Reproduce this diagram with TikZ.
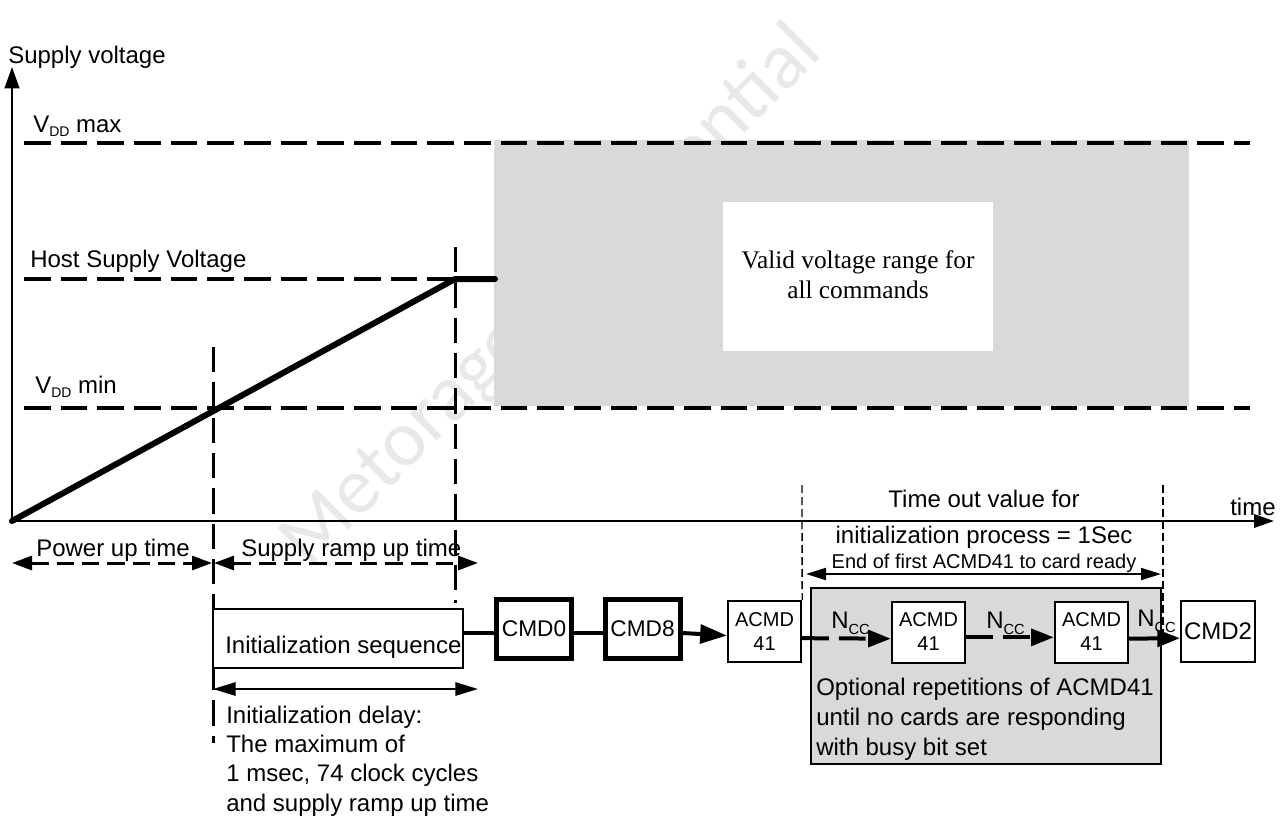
\documentclass[tikz,border=0pt]{standalone}
\usepackage{fontspec}
\setmainfont{Liberation Sans}
\newfontfamily\serifface{Liberation Serif}
\newfontfamily\markface{Carlito}
\usetikzlibrary{arrows.meta}

% subscripted symbols
\newcommand\vddsym{V\raisebox{-3pt}{\fontsize{10.5}{10.5}\selectfont DD}}
\newcommand\nccsym{N\raisebox{-4.5pt}{\fontsize{11}{11}\selectfont CC}}

\begin{document}
\begin{tikzpicture}[x=0.75pt,y=-0.75pt,
  lbl/.style={font=\fontsize{18}{22}\selectfont, inner sep=0pt},
  guide/.style={line width=3pt, dash pattern=on 20pt off 7.5pt},
  vguide/.style={line width=2.25pt, dash pattern=on 19pt off 7.5pt},
  thinguide/.style={line width=1pt, dash pattern=on 6pt off 3pt},
  spanarrow/.style={line width=2.25pt, dash pattern=on 13pt off 6pt,
    {Triangle[length=15pt,width=10.5pt]}-{Triangle[length=15pt,width=10.5pt]}},
  cmdbox/.style={draw, fill=white, line width=3.75pt, minimum width=56.25pt,
    minimum height=44.25pt, inner sep=0pt, font=\fontsize{17}{20}\selectfont},
  abox/.style={draw, fill=white, line width=1.5pt, minimum width=55pt,
    minimum height=45.75pt, inner sep=0pt, align=center,
    font=\fontsize{15}{18}\selectfont},
  linkarrow/.style={line width=3pt, -{Triangle[length=17pt,width=12.5pt]}},
  dlinkarrow/.style={linkarrow, dash pattern=on 20pt off 7.5pt},
]
\useasboundingbox (0,0) rectangle (1287,822);

% watermark
\node[rotate=45, text=black!9, font=\markface\fontsize{60}{60}\selectfont,
  inner sep=0pt] (mark) at (552,297) {Metorage Confidential};

% valid voltage window
\node[fill=black!15, minimum width=521.25pt, minimum height=199.5pt,
  inner sep=0pt] (window) at (841.5,273) {};
\node[fill=white, minimum width=202.5pt, minimum height=111.75pt,
  inner sep=0pt] (validbox) at (858,276.5) {};
\node[font=\serifface\fontsize{19}{22.5}\selectfont, align=center,
  inner sep=0pt] (validtxt) at (858,275) {Valid voltage range for\\all commands};

% key points
\coordinate (O) at (12,521);
\coordinate (ytop) at (12,67);
\coordinate (tend) at (1274,521);
\coordinate (maxL) at (24,143);
\coordinate (maxR) at (1250,143);
\coordinate (hostL) at (24,279);
\coordinate (hostP) at (455,279);
\coordinate (hostE) at (495,279);
\coordinate (minL) at (24,408);
\coordinate (minR) at (1250,408);
\coordinate (v1top) at (213,347);
\coordinate (v1bot) at (213,743);
\coordinate (v2top) at (455,247);
\coordinate (v2bot) at (455,603);

% voltage levels
\draw[guide] (maxL) -- (maxR);
\draw[guide] (hostL) -- (hostP);
\draw[guide] (minL) -- (minR);

\node[lbl, anchor=base west] (vmaxlbl) at (33,132) {\vddsym\ max};
\node[lbl, anchor=base west] (hostlbl) at (30,267) {Host Supply Voltage};
\node[lbl, anchor=base west] (vminlbl) at (35,393) {\vddsym\ min};

% time markers
\draw[vguide] (v1top) -- (v1bot);
\draw[vguide] (v2top) -- (v2bot);

% axes
\draw[line width=1.8pt, -{Triangle[length=16pt,width=11pt]}] (O) -- (ytop);
\draw[line width=1.8pt, -{Triangle[length=15pt,width=10pt]}] (O) -- (tend);
\node[lbl, anchor=base west] (ylbl) at (8,63) {Supply voltage};
\node[lbl, anchor=base west] (tlbl) at (1230,515) {time};

% supply ramp
\draw[line width=4.5pt, line cap=round, line join=round] (O) -- (hostP) -- (hostE);

% power-up spans
\coordinate (p0) at (12,563);
\coordinate (p1) at (212,563);
\coordinate (p2) at (214,563);
\coordinate (p3) at (478,563);
\draw[spanarrow] (p0) -- (p1);
\draw[spanarrow] (p2) -- (p3);
\node[lbl, anchor=base west] (pwrlbl) at (36,556) {Power up time};
\node[lbl, anchor=base west] (ramplbl) at (241,556) {Supply ramp up time};

% initialization sequence and commands
\node[draw, fill=white, line width=1.5pt, minimum width=187.5pt,
  minimum height=44.25pt, inner sep=0pt] (init) at (338,638.5) {};
\node[lbl, anchor=base west] (inittxt) at (225,653) {Initialization sequence};
\node[cmdbox] (cmd0) at (534,629) {CMD0};
\node[cmdbox] (cmd8) at (642.5,629) {CMD8};

\draw[line width=3pt] ([yshift=-3pt]cmd0.west -| init.east) -- ([yshift=-3pt]cmd0.west);
\draw[line width=3pt] ([yshift=-3pt]cmd0.east) -- ([yshift=-3pt]cmd8.west);

% optional repetitions
\node[draw, fill=black!15, line width=1.5pt, minimum width=262.5pt,
  minimum height=132pt, inner sep=0pt] (optbox) at (986,676) {};
\node[lbl, anchor=west, align=left, font=\fontsize{18}{22.5}\selectfont]
  (opttxt) at (816,719) {Optional repetitions of ACMD41\\until no cards are responding\\with busy bit set};

\node[abox] (acmd1) at (764.5,631.5) {ACMD\\41};
\node[abox] (acmd2) at (928.5,632) {ACMD\\41};
\node[abox] (acmd3) at (1091.5,632) {ACMD\\41};
\node[draw, fill=white, line width=1.5pt, minimum width=55.5pt,
  minimum height=45.75pt, inner sep=0pt, font=\fontsize{18}{20}\selectfont]
  (cmd2) at (1218,631.5) {CMD2};

\draw[line width=3pt, -{Triangle[length=20pt,width=14pt]}]
  ([yshift=-3pt]cmd8.east) -- ([yshift=-3pt]acmd1.west);
\draw[dlinkarrow] ([yshift=-5pt]acmd1.east) -- ([yshift=-5pt]acmd2.west);
\draw[dlinkarrow] ([yshift=-4pt]acmd2.east) -- ([yshift=-4pt]acmd3.west);
\draw[linkarrow] ([yshift=-5pt]acmd3.east) -- ([yshift=-5pt]cmd2.west);

\node[lbl, anchor=base west] (ncc1) at (831,628) {\nccsym};
\node[lbl, anchor=base west] (ncc2) at (986,628) {\nccsym};
\node[lbl, anchor=base west] (ncc3) at (1137,626) {\nccsym};

% time-out window
\coordinate (t1top) at (802,485);
\coordinate (t2top) at (1163,485);
\coordinate (t2bot) at (1163,643);
\draw[thinguide] (t1top) -- (acmd1.north east);
\draw[thinguide] (t2top) -- (t2bot);
\coordinate (e0) at (806,574);
\coordinate (e1) at (1161,574);
\draw[line width=1.5pt, {Triangle[length=15pt,width=9pt]}-{Triangle[length=15pt,width=9pt]}] (e0) -- (e1);
\node[lbl, anchor=base] (tolbl1) at (984,507) {Time out value for};
\node[lbl, anchor=base] (tolbl2) at (984,543) {initialization process = 1Sec};
\node[inner sep=0pt, anchor=base, font=\fontsize{15}{18}\selectfont]
  (tolbl3) at (984,568) {End of first ACMD41 to card ready};

% initialization delay
\coordinate (d0) at (213,689);
\coordinate (d1) at (478,689);
\draw[line width=1.5pt, {Triangle[length=17pt,width=10pt]}-{Triangle[length=17pt,width=10pt]}] (d0) -- (d1);
\node[lbl, anchor=west, align=left] (delaytxt) at (226,761)
  {Initialization delay:\\The maximum of\\1 msec, 74 clock cycles\\and supply ramp up time};
\end{tikzpicture}
\end{document}
